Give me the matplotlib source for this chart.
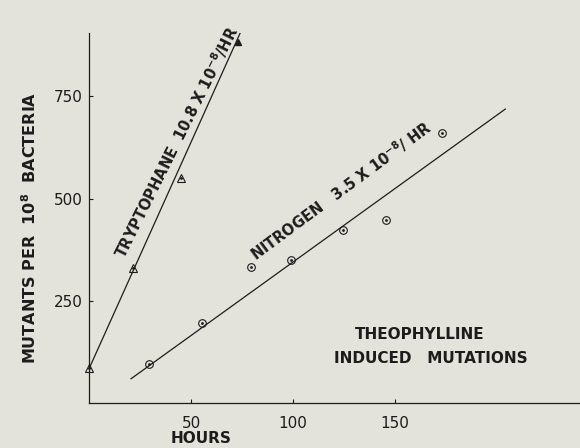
import numpy as np
import matplotlib.pyplot as plt

# ==================== data ====================
trp_hours = [0, 21.5, 45.1, 72.9]
trp_mutants = [86, 331, 551, 884]
trp_fit_hours = [0, 74.1]
trp_fit_mutants = [86, 905]

nit_hours = [29.3, 55.5, 79.3, 99.1, 124.5, 145.7, 173.3]
nit_mutants = [95, 196, 334, 350, 424, 448, 660]
nit_fit_hours = [20.5, 204.3]
nit_fit_mutants = [60, 719]

x_ticks = [50, 100, 150]
y_ticks = [250, 500, 750]

# ==================== style ====================
BG = '#e3e3db'
INK = '#1c1c1c'
plt.rcParams['font.family'] = ['DejaVu Sans']
plt.rcParams['mathtext.default'] = 'regular'

fig = plt.figure(figsize=(5.8, 4.48), dpi=100, facecolor=BG)
ax = fig.add_axes([0.154, 0.0998, 0.846, 0.8266])
ax.set_facecolor(BG)

# fitted lines
ax.plot(trp_fit_hours, trp_fit_mutants, color=INK, lw=0.9)
ax.plot(nit_fit_hours, nit_fit_mutants, color=INK, lw=0.9)

# tryptophane points (open triangles, last one filled)
ax.plot(trp_hours[:-1], trp_mutants[:-1], ls='none', marker='^', ms=6,
        mfc='none', mec=INK, mew=0.8, clip_on=False)
ax.plot(trp_hours[:-1], trp_mutants[:-1], ls='none', marker='.', ms=2,
        color=INK, clip_on=False)
ax.plot(trp_hours[-1:], trp_mutants[-1:], ls='none', marker='^', ms=5,
        color=INK, clip_on=False)

# nitrogen points (open circles with centre dot)
ax.plot(nit_hours, nit_mutants, ls='none', marker='o', ms=5.5,
        mfc='none', mec=INK, mew=0.8)
ax.plot(nit_hours, nit_mutants, ls='none', marker='.', ms=2, color=INK)

# line labels
ax.text(42.6, 639, r'TRYPTOPHANE  10.8 X 10$^{-8}$/HR', rotation=63.5,
        rotation_mode='anchor', ha='center', va='center', fontsize=10.5,
        fontweight='bold', color=INK)
ax.text(123.5, 520, r'NITROGEN   3.5 X 10$^{-8}$/ HR', rotation=36.5,
        rotation_mode='anchor', ha='center', va='center', fontsize=10.5,
        fontweight='bold', color=INK)

ax.text(162.5, 168, 'THEOPHYLLINE', ha='center', va='center',
        fontsize=11, fontweight='bold', color=INK)
ax.text(167.5, 109, 'INDUCED   MUTATIONS', ha='center', va='center',
        fontsize=11, fontweight='bold', color=INK)

# ==================== axes ====================
ax.set_xlim(0, 241)
ax.set_ylim(0, 905)
ax.set_xticks(x_ticks)
ax.set_yticks(y_ticks)
ax.tick_params(axis='x', direction='in', length=3, width=0.8, pad=9,
               labelsize=11, colors=INK)
ax.tick_params(axis='y', direction='in', length=3, width=0.8, pad=5,
               labelsize=11, colors=INK)

ax.spines['top'].set_visible(False)
ax.spines['right'].set_visible(False)
ax.spines['left'].set_linewidth(0.9)
ax.spines['bottom'].set_linewidth(0.9)
ax.spines['left'].set_color(INK)
ax.spines['bottom'].set_color(INK)

ax.set_xlabel('HOURS', fontsize=11, fontweight='bold', color=INK, va='center')
ax.xaxis.set_label_coords(0.228, -0.094)
ax.set_ylabel(r'MUTANTS PER  10$^{8}$  BACTERIA', fontsize=11.5,
              fontweight='bold', color=INK, va='center')
ax.yaxis.set_label_coords(-0.121, 0.473)

fig.savefig('out.png', dpi=100, facecolor=BG)
